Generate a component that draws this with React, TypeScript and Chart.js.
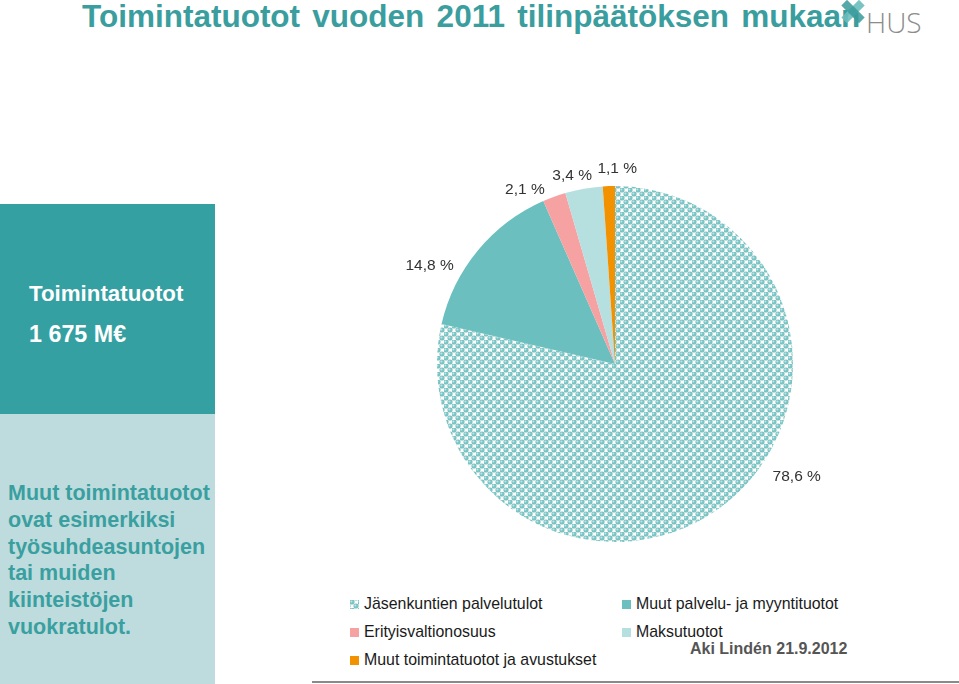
import React, { useEffect, useRef } from "react";
import { Chart, registerables } from "chart.js";

Chart.register(...registerables);

const categories = [
  "Jäsenkuntien palvelutulot",
  "Muut palvelu- ja myyntituotot",
  "Erityisvaltionosuus",
  "Maksutuotot",
  "Muut toimintatuotot ja avustukset",
];
const shares = [78.6, 14.8, 2.1, 3.4, 1.1];
const sliceColors = ["pattern", "#6cbfbf", "#f6a2a2", "#b6dfe0", "#f39200"];
// label placement tweak (degrees from slice middle), styling only
const labelAngleShift = [-17.5, -9.6, -6.0, -2.0, 2.6];
const labelGap = [17, 12, 8, 7, 10];

const fmt = (v: number) => v.toFixed(1).replace(".", ",") + " %";

function makeTile(): HTMLCanvasElement {
  const t = document.createElement("canvas");
  t.width = 8;
  t.height = 8;
  const g = t.getContext("2d")!;
  g.fillStyle = "#ffffff";
  g.fillRect(0, 0, 8, 8);
  const pts = [
    [2, 2],
    [6, 6],
    [-2, 6],
    [6, -2],
    [10, 6],
    [6, 10],
    [-2, -2],
    [10, -2],
    [-2, 10],
    [10, 10],
  ];
  for (const [x, y] of pts) {
    g.fillStyle = "#7cc3c3";
    g.beginPath();
    g.arc(x, y, 2.6, 0, Math.PI * 2);
    g.fill();
    g.fillStyle = "#bfe4e4";
    g.beginPath();
    g.arc(x - 0.6, y - 0.6, 1.0, 0, Math.PI * 2);
    g.fill();
  }
  return t;
}

const labelPlugin = {
  id: "pctLabels",
  afterDatasetsDraw(chart: any) {
    const ctx = chart.ctx;
    const meta = chart.getDatasetMeta(0);
    ctx.save();
    ctx.font = "15.5px 'Liberation Sans', Arial, sans-serif";
    ctx.fillStyle = "#333333";
    ctx.textAlign = "center";
    ctx.textBaseline = "middle";
    meta.data.forEach((arc: any, i: number) => {
      const p = arc.getProps(["x", "y", "startAngle", "endAngle", "outerRadius"], true);
      const mid = (p.startAngle + p.endAngle) / 2 + (labelAngleShift[i] * Math.PI) / 180;
      const dx = Math.cos(mid);
      const dy = Math.sin(mid);
      const text = fmt(shares[i]);
      const w = ctx.measureText(text).width;
      const h = 15;
      const d = p.outerRadius + labelGap[i];
      const x = p.x + dx * d + (dx * w) / 2;
      const y = p.y + dy * d + (dy * h) / 2;
      ctx.fillText(text, x, y);
    });
    ctx.restore();
  },
};

export default function App() {
  const ref = useRef<HTMLCanvasElement>(null);
  const swatchRef = useRef<HTMLDivElement>(null);

  useEffect(() => {
    document.body.style.margin = "0";
    const tile = makeTile();
    const ctx = ref.current!.getContext("2d")!;
    const pattern = ctx.createPattern(tile, "repeat")!;
    if (swatchRef.current) {
      swatchRef.current.style.backgroundImage = `url(${tile.toDataURL()})`;
    }
    const bg = sliceColors.map((c) => (c === "pattern" ? pattern : c));
    const chart = new Chart(ref.current!, {
      type: "pie",
      data: {
        labels: categories,
        datasets: [
          {
            data: shares,
            backgroundColor: bg as any,
            borderWidth: 0,
          },
        ],
      },
      options: {
        animation: false,
        responsive: false,
        radius: 178,
        layout: { padding: 0 },
        plugins: {
          legend: { display: false },
          tooltip: { enabled: false },
        },
      },
      plugins: [labelPlugin],
    });
    return () => chart.destroy();
  }, []);

  const font = "'Liberation Sans', Arial, sans-serif";

  const legendItem = (i: number, left: number, top: number) => (
    <div
      key={i}
      style={{
        position: "absolute",
        left,
        top,
        display: "flex",
        alignItems: "center",
        fontFamily: font,
        fontSize: 15.9,
        color: "#1a1a1a",
        whiteSpace: "nowrap",
      }}
    >
      {sliceColors[i] === "pattern" ? (
        <div
          ref={swatchRef}
          style={{ width: 9, height: 9, marginRight: 5, backgroundColor: "#b5dede" }}
        />
      ) : (
        <div
          style={{ width: 9, height: 9, marginRight: 5, backgroundColor: sliceColors[i] }}
        />
      )}
      <span>{categories[i]}</span>
    </div>
  );

  return (
    <div
      style={{
        position: "fixed",
        left: 0,
        top: 0,
        width: 959,
        height: 684,
        background: "#ffffff",
        overflow: "hidden",
      }}
    >
      {/* Title */}
      <div
        style={{
          position: "absolute",
          left: 82,
          top: -2,
          fontFamily: font,
          fontWeight: "bold",
          fontSize: 31.5,
          wordSpacing: 3.5,
          color: "#3a9e9e",
          whiteSpace: "nowrap",
        }}
      >
        Toimintatuotot vuoden 2011 tilinpäätöksen mukaan
      </div>
      {/* Logo */}
      <div
        style={{
          position: "absolute",
          left: 840,
          top: 1,
          width: 26,
          height: 20,
        }}
      >
        <div
          style={{
            position: "absolute",
            left: 9,
            top: -2,
            width: 8,
            height: 25,
            background: "#6cbcbc",
            transform: "rotate(45deg)",
            opacity: 0.9,
          }}
        />
        <div
          style={{
            position: "absolute",
            left: 9,
            top: -2,
            width: 8,
            height: 25,
            background: "#3a9a9a",
            transform: "rotate(-45deg)",
            opacity: 0.85,
          }}
        />
      </div>
      <div
        style={{
          position: "absolute",
          left: 866,
          top: 3,
          fontFamily: "'Open Sans', 'DejaVu Sans', sans-serif",
          fontWeight: 300,
          fontSize: 28,
          color: "#8c8c8c",
        }}
      >
        HUS
      </div>

      {/* Left panels */}
      <div
        style={{
          position: "absolute",
          left: 0,
          top: 204,
          width: 215,
          height: 210,
          background: "#35a0a2",
        }}
      >
        <div
          style={{
            position: "absolute",
            left: 29,
            top: 77,
            fontFamily: font,
            fontSize: 22.3,
            fontWeight: "bold",
            color: "#ffffff",
            whiteSpace: "nowrap",
          }}
        >
          Toimintatuotot
        </div>
        <div
          style={{
            position: "absolute",
            left: 29,
            top: 117,
            fontFamily: font,
            fontSize: 23.3,
            fontWeight: "bold",
            color: "#ffffff",
            whiteSpace: "nowrap",
          }}
        >
          1 675 M€
        </div>
      </div>
      <div
        style={{
          position: "absolute",
          left: 0,
          top: 414,
          width: 215,
          height: 270,
          background: "#bedcdd",
        }}
      >
        <div
          style={{
            position: "absolute",
            left: 8,
            top: 66,
            fontFamily: font,
            fontSize: 21.5,
            fontWeight: "bold",
            lineHeight: "26.8px",
            color: "#3a9fa0",
            whiteSpace: "nowrap",
          }}
        >
          Muut toimintatuotot
          <br />
          ovat esimerkiksi
          <br />
          työsuhdeasuntojen
          <br />
          tai muiden
          <br />
          kiinteistöjen
          <br />
          vuokratulot.
        </div>
      </div>

      {/* Chart */}
      <canvas
        ref={ref}
        width={470}
        height={448}
        style={{ position: "absolute", left: 380, top: 140, width: 470, height: 448 }}
      />

      {/* Legend */}
      {legendItem(0, 350, 595)}
      {legendItem(1, 622, 595)}
      {legendItem(2, 350, 623)}
      {legendItem(3, 622, 623)}
      {legendItem(4, 350, 651)}

      <div
        style={{
          position: "absolute",
          left: 690,
          top: 640,
          fontFamily: font,
          fontSize: 16,
          fontWeight: "bold",
          color: "#555555",
          whiteSpace: "nowrap",
        }}
      >
        Aki Lindén 21.9.2012
      </div>

      <div
        style={{
          position: "absolute",
          left: 312,
          top: 681,
          width: 647,
          height: 2,
          background: "#8a8a8a",
        }}
      />
    </div>
  );
}
